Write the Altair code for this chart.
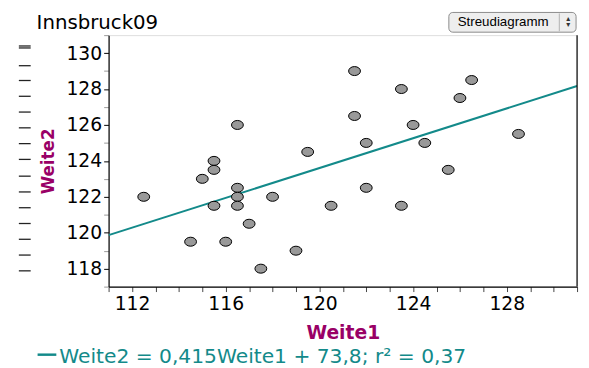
import altair as alt
import pandas as pd

# ---- data ----
weite1 = [112.5, 114.5, 115.0, 115.5, 115.5, 115.5, 116.0, 116.5, 116.5, 116.5,
          116.5, 117.0, 117.5, 118.0, 119.0, 119.5, 120.5, 121.5, 121.5, 122.0,
          122.0, 123.5, 123.5, 124.0, 124.5, 125.5, 126.0, 126.5, 128.5]
weite2 = [122.0, 119.5, 123.0, 124.0, 123.5, 121.5, 119.5, 126.0, 122.5, 122.0,
          121.5, 120.5, 118.0, 122.0, 119.0, 124.5, 121.5, 129.0, 126.5, 125.0,
          122.5, 128.0, 121.5, 126.0, 125.0, 123.5, 127.5, 128.5, 125.5]
slope = 0.415
intercept = 73.8
x_domain = [111, 131]
y_domain = [117, 131]
x_tick_values = [v / 2 for v in range(222, 263)]
y_tick_values = list(range(117, 132))
title_text = "Innsbruck09"
x_title = "Weite1"
y_title = "Weite2"
equation = "Weite2 = 0,415Weite1 + 73,8; r\u00b2 = 0,37"
menu_label = "Streudiagramm"
dash_rows = [11, 13, 31, 46, 62, 78, 94, 110, 126, 143, 159, 175, 191, 207, 223, 239]

W, H = 475, 255
TEAL = "#138a8a"
MAGENTA = "#990066"
FONT = "DejaVu Sans"

df = pd.DataFrame({"Weite1": weite1, "Weite2": weite2})
line_df = pd.DataFrame({"Weite1": x_domain})
one = pd.DataFrame({"k": [0]})

xs = alt.Scale(domain=x_domain, nice=False, zero=False)
ys = alt.Scale(domain=y_domain, nice=False, zero=False)

x_axis = alt.Axis(
    values=x_tick_values, format="d", tickCount=200,
    labelExpr="(round(datum.value * 2) % 8 == 0) ? datum.label : ''",
    tickSize=5, tickColor="#444444", domainColor="black", domainWidth=1.2,
    labelFont=FONT, labelFontSize=19, labelColor="black", labelPadding=3,
    labelOverlap=False, labelFlush=False, grid=False,
    title=x_title, titleFont=FONT, titleFontWeight="bold", titleFontSize=19,
    titleColor=MAGENTA, titlePadding=11,
)
y_axis = alt.Axis(
    values=y_tick_values, format="d", tickCount=200,
    labelExpr="(round(datum.value) % 2 == 0) ? datum.label : ''",
    tickSize=5,
    tickColor={"condition": {"test": "round(datum.value) % 2 == 0", "value": "black"}, "value": "#999999"},
    domainColor="black", domainWidth=1.2,
    labelFont=FONT, labelFontSize=19, labelColor="black", labelPadding=2,
    labelOverlap=False, labelFlush=False, grid=False,
    title=y_title, titleFont=FONT, titleFontWeight="bold", titleFontSize=17,
    titleColor=MAGENTA, titlePadding=9,
)

ellipse = "M-1,0A1,0.76,0,1,1,1,0A1,0.76,0,1,1,-1,0Z"

points = alt.Chart(df).mark_point(
    shape=ellipse, size=144, fill="#999999", stroke="black",
    strokeWidth=1, opacity=1, fillOpacity=1,
).encode(
    x=alt.X("Weite1:Q", scale=xs, axis=x_axis),
    y=alt.Y("Weite2:Q", scale=ys, axis=y_axis),
)

reg = alt.Chart(line_df).transform_calculate(
    Weite2=f"{slope} * datum.Weite1 + {intercept}"
).mark_line(color=TEAL, strokeWidth=2, clip=True).encode(
    x=alt.X("Weite1:Q", scale=xs, axis=x_axis),
    y=alt.Y("Weite2:Q", scale=ys, axis=y_axis),
)

right_border = alt.Chart(one).mark_rule(color="black", strokeWidth=1.2).encode(
    x=alt.value(W), y=alt.value(0), y2=alt.value(H)
)

title = alt.Chart(one).mark_text(
    text=title_text, font=FONT, fontSize=20, align="left", baseline="alphabetic", color="black"
).encode(x=alt.value(-73), y=alt.value(-6))

btn = alt.Chart(one).mark_rect(
    cornerRadius=4, fill="#eeeeee", stroke="#8a8a8a", strokeWidth=1
).encode(x=alt.value(345), x2=alt.value(474), y=alt.value(-23), y2=alt.value(-3))
btn_sep = alt.Chart(one).mark_rule(color="#b0b0b0").encode(
    x=alt.value(457), y=alt.value(-22), y2=alt.value(-4)
)
btn_text = alt.Chart(one).mark_text(
    text=menu_label, font="Liberation Sans", fontSize=13.5, align="left",
    baseline="middle", color="black"
).encode(x=alt.value(354), y=alt.value(-13))
btn_up = alt.Chart(one).mark_text(
    text="\u25b4", font=FONT, fontSize=8, align="center", baseline="middle", color="#333333"
).encode(x=alt.value(466), y=alt.value(-16))
btn_dn = alt.Chart(one).mark_text(
    text="\u25be", font=FONT, fontSize=8, align="center", baseline="middle", color="#333333"
).encode(x=alt.value(466), y=alt.value(-10))

dashes = alt.Chart(pd.DataFrame({"py": dash_rows})).mark_rule(
    color="#222222", strokeWidth=1.3
).encode(
    x=alt.value(-91), x2=alt.value(-79), y=alt.Y("py:Q", scale=None, axis=None)
)

leg_line = alt.Chart(one).mark_rule(color=TEAL, strokeWidth=2.5).encode(
    x=alt.value(-72), x2=alt.value(-53), y=alt.value(324)
)
leg_text = alt.Chart(one).mark_text(
    text=equation, font=FONT, fontSize=20.5, align="left", baseline="middle", color=TEAL
).encode(x=alt.value(-50), y=alt.value(326))

chart = alt.layer(
    reg, points, right_border, title, btn, btn_sep, btn_text, btn_up, btn_dn,
    dashes, leg_line, leg_text
).properties(
    width=W, height=H,
    autosize=alt.AutoSizeParams(type="none"),
    padding={"left": 102, "top": 25, "right": 4, "bottom": 80},
).configure_view(stroke=None).configure(background="white")

chart.save("out.html", embed_options={"renderer": "svg", "actions": False})
